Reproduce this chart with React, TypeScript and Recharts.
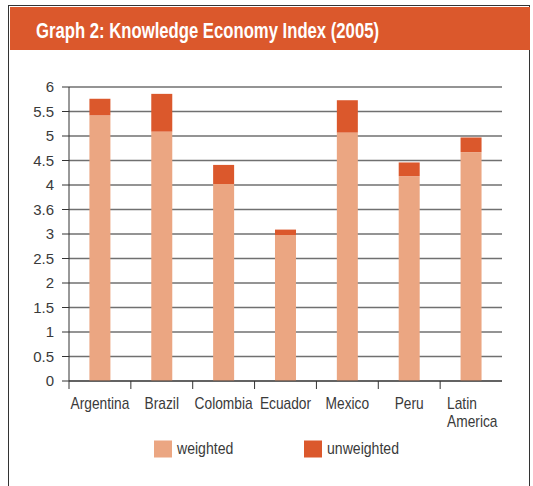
import { Bar, BarChart, CartesianGrid, Legend, XAxis, YAxis } from "recharts";

const categories = ["Argentina", "Brazil", "Colombia", "Ecuador", "Mexico", "Peru", "Latin America"];
const weighted = [5.42, 5.09, 4.02, 2.98, 5.07, 4.18, 4.67];
const unweighted = [0.34, 0.77, 0.39, 0.11, 0.66, 0.28, 0.3];
const yTicks = [0, 0.5, 1, 1.5, 2, 2.5, 3, 3.5, 4, 4.5, 5, 5.5, 6];
const yTickLabels = ["0", "0.5", "1", "1.5", "2", "2.5", "3", "3.6", "4", "4.5", "5", "5.5", "6"];

const FONT = "'Liberation Sans', Arial, sans-serif";
const LIGHT = "#eba682";
const DARK = "#db582c";
const TEXT = "#3a3a3a";
// no narrow font installed, so squeeze Liberation Sans horizontally
const SQUEEZE = 0.86;

const data = categories.map((name, i) => ({
  name,
  weighted: weighted[i],
  unweighted: unweighted[i],
}));

const squeezeAt = (x: number, k = SQUEEZE) => `translate(${x},0) scale(${k},1) translate(${-x},0)`;

export default function App() {
  return (
    <div style={{ position: "absolute", left: 0, top: 0, width: 533, height: 486, background: "#fff", overflow: "hidden" }}>
      {/* frame + header band */}
      <div
        style={{
          position: "absolute",
          left: 8,
          top: 5,
          width: 520,
          height: 500,
          border: "1.5px solid #333",
          boxSizing: "content-box",
        }}
      />
      <div style={{ position: "absolute", left: 9.5, top: 6.5, width: 520, height: 43.5, background: DARK }} />
      <svg style={{ position: "absolute", left: 0, top: 0 }} width={533} height={50}>
        <text
          x={36}
          y={37.5}
          fill="#fff"
          fontFamily={FONT}
          fontWeight={700}
          fontSize={22.5}
          textLength={343}
          lengthAdjust="spacingAndGlyphs"
        >
          Graph 2: Knowledge Economy Index (2005)
        </text>
      </svg>

      <div style={{ position: "absolute", left: 0, top: 0 }}>
        <BarChart
          width={533}
          height={486}
          data={data}
          barCategoryGap="33%"
          margin={{ top: 87, right: 31, left: 0, bottom: 27 }}
        >
          <CartesianGrid vertical={false} stroke="#707070" strokeWidth={1.3} />
          <XAxis
            dataKey="name"
            height={58}
            axisLine={{ stroke: "#333" }}
            tickLine={false}
            tickSize={0}
            tickMargin={0}
            interval={0}
            tick={<CategoryTick />}
          />
          <YAxis
            width={69}
            domain={[0, 6]}
            ticks={yTicks}
            interval={0}
            tickSize={7}
            tickMargin={8}
            axisLine={{ stroke: "#333" }}
            tickLine={{ stroke: "#333" }}
            tick={{ fill: TEXT, fontSize: 15, fontFamily: FONT }}
            tickFormatter={(v: number) => yTickLabels[yTicks.indexOf(v)] ?? String(v)}
          />
          <YAxis
            yAxisId="r"
            orientation="right"
            width={0}
            tick={false}
            axisLine={{ stroke: "#8a8a8a", strokeWidth: 2 }}
          />
          <Legend verticalAlign="bottom" content={<LegendBox />} wrapperStyle={{ left: 0, width: 533 }} />
          <Bar dataKey="weighted" stackId="a" fill={LIGHT} isAnimationActive={false} />
          <Bar dataKey="unweighted" stackId="a" fill={DARK} isAnimationActive={false} />
        </BarChart>
      </div>
    </div>
  );
}

function CategoryTick(props: any) {
  const { x, y, payload } = props;
  const half = payload?.offset ?? 0;
  const words: string[] = String(payload.value).split(" ");
  const multi = words.length > 1;
  const tx = multi ? x - 24 : x;
  return (
    <g>
      {half > 0 && <line x1={x - half} x2={x - half} y1={y} y2={y + 8} stroke="#333" />}
      <text
        x={tx}
        y={y + 28.5}
        textAnchor={multi ? "start" : "middle"}
        fill={TEXT}
        fontSize={16}
        fontFamily={FONT}
        transform={squeezeAt(tx)}
      >
        {words.map((w, i) => (
          <tspan key={w} x={tx} dy={i === 0 ? 0 : 18}>
            {w}
          </tspan>
        ))}
      </text>
    </g>
  );
}

function LegendBox() {
  const items = [
    { label: "weighted", color: LIGHT, x: 154 },
    { label: "unweighted", color: DARK, x: 304 },
  ];
  return (
    <svg width={533} height={20} style={{ display: "block" }}>
      {items.map((it) => (
        <g key={it.label}>
          <rect x={it.x} y={1.5} width={18} height={17} fill={it.color} />
          <text
            x={it.x + 23}
            y={15.5}
            fill={TEXT}
            fontSize={16}
            fontFamily={FONT}
            transform={squeezeAt(it.x + 23, 0.88)}
          >
            {it.label}
          </text>
        </g>
      ))}
    </svg>
  );
}
